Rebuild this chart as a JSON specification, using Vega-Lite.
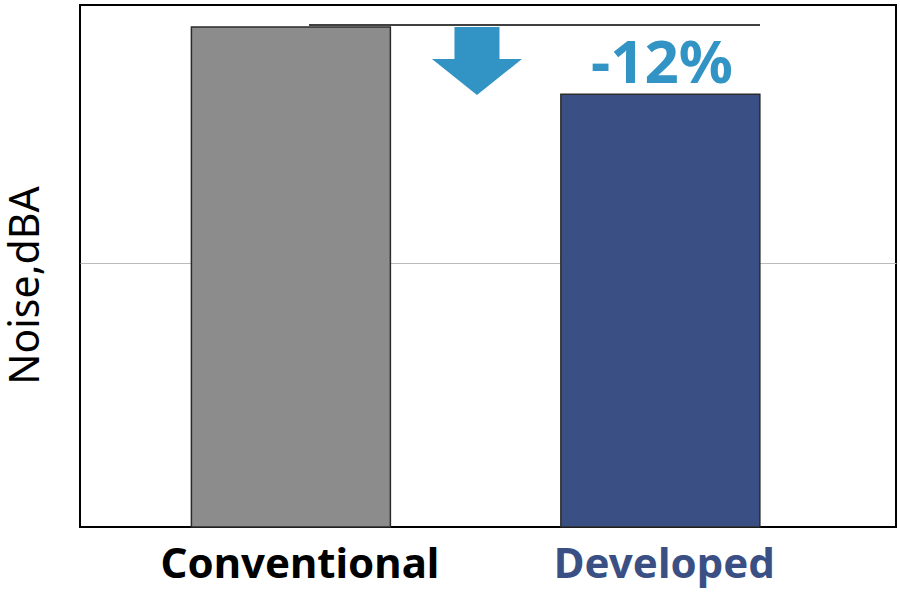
{
  "$schema": "https://vega.github.io/schema/vega-lite/v6.json",
  "width": 816,
  "height": 522,
  "autosize": {"type": "none"},
  "padding": {"left": 80, "top": 5, "right": 4, "bottom": 73},
  "background": "white",
  "config": {"view": {"stroke": "black", "strokeWidth": 2}, "font": "Noto Sans"},
  "resolve": {"scale": {"x": "independent"}},
  "layer": [
    {
      "data": {"values": [
        {"group": "Conventional", "noise": 94.73},
        {"group": "Developed", "noise": 81.98}
      ]},
      "mark": {"type": "bar", "stroke": "#2b2b2b", "strokeWidth": 1.5},
      "encoding": {
        "x": {
          "field": "group", "type": "nominal", "sort": ["Conventional", "Developed"],
          "scale": {"paddingInner": 0.4614, "paddingOuter": 0.335, "align": 0.45},
          "axis": {
            "title": null, "domain": false, "ticks": false, "labelAngle": 0, "labelLimit": 0,
            "labelFontSize": 42, "labelFontWeight": "bold", "labelPadding": 17,
            "labelOffset": {"expr": "datum.value == 'Conventional' ? 9 : 4"},
            "labelColor": {"expr": "datum.value == 'Developed' ? '#3a5084' : 'black'"}
          }
        },
        "y": {
          "field": "noise", "type": "quantitative",
          "scale": {"domain": [0, 98.9], "nice": false},
          "axis": {
            "title": "Noise,dBA", "values": [50], "labels": false, "ticks": false,
            "domain": false, "grid": true, "gridColor": "#bbbbbb", "gridWidth": 1,
            "titleFontSize": 41, "titleFontWeight": "normal", "titleColor": "black",
            "titleX": -54, "titleY": 280, "titleBaseline": "middle", "titleAngle": -90
          }
        },
        "color": {
          "field": "group", "type": "nominal",
          "scale": {"domain": ["Conventional", "Developed"], "range": ["#8c8c8c", "#3a5084"]},
          "legend": null
        }
      }
    },
    {
      "data": {"values": [{"x": 28.06, "x2": 83.33, "y": 95.11}]},
      "mark": {"type": "rule", "color": "black", "strokeWidth": 1.5},
      "encoding": {
        "x": {"field": "x", "type": "quantitative", "scale": {"domain": [0, 100]}, "axis": null},
        "x2": {"field": "x2"},
        "y": {"field": "y", "type": "quantitative"}
      }
    },
    {
      "data": {"values": [{"x": 48.65, "y": 88.29}]},
      "mark": {
        "type": "point",
        "shape": "M-0.5,-0.756 L0.5,-0.756 L0.5,-0.044 L1,-0.044 L0,0.756 L-1,-0.044 L-0.5,-0.044 Z",
        "size": 8100, "filled": true, "color": "#3194c4", "opacity": 1, "strokeWidth": 0
      },
      "encoding": {
        "x": {"field": "x", "type": "quantitative", "scale": {"domain": [0, 100]}, "axis": null},
        "y": {"field": "y", "type": "quantitative"}
      }
    },
    {
      "data": {"values": [{"x": 71.32, "y": 84.12, "label": "-12%"}]},
      "mark": {"type": "text", "fontSize": 60, "fontWeight": "bold", "letterSpacing": 9, "color": "#3194c4", "baseline": "alphabetic", "align": "center"},
      "encoding": {
        "x": {"field": "x", "type": "quantitative", "scale": {"domain": [0, 100]}, "axis": null},
        "y": {"field": "y", "type": "quantitative"},
        "text": {"field": "label"}
      }
    }
  ]
}
